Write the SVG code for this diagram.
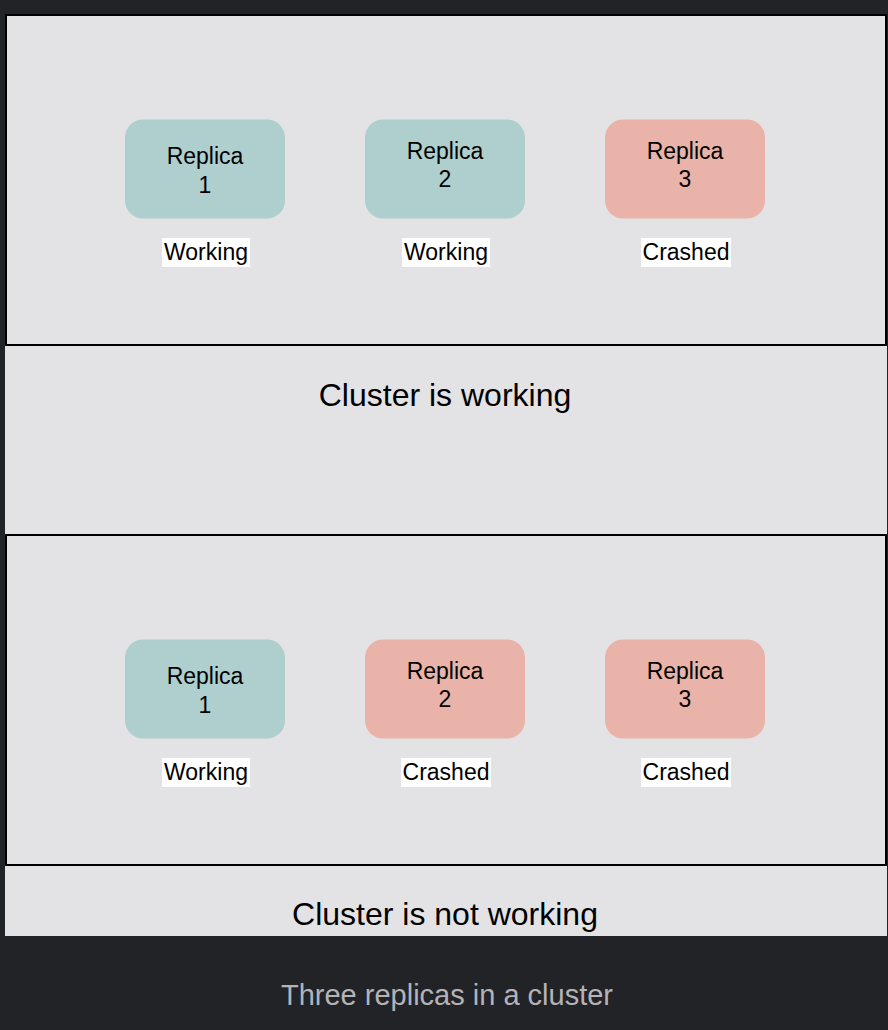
<svg xmlns="http://www.w3.org/2000/svg" width="888" height="1030" viewBox="0 0 888 1030">
<style>
.frame{fill:none;stroke:#000;stroke-width:2}
.ok{fill:#aecfce}
.bad{fill:#e9b3a9}
.nt{font-family:"Liberation Sans",Arial,sans-serif;font-size:23px;fill:#000;text-anchor:middle}
.lb{fill:#fff}
.big{font-family:"Liberation Sans",Arial,sans-serif;font-size:32px;fill:#000;text-anchor:middle}
.cap{font-family:"Liberation Sans",Arial,sans-serif;font-size:29px;fill:#b3b3b8;text-anchor:middle}
</style>
<rect x="0" y="0" width="888" height="1030" fill="#222327"/>
<rect x="5" y="14" width="882" height="922" fill="#e3e3e5"/>
<g id="connectors"></g>
<g id="cluster-working">
  <rect class="frame" x="6" y="15" width="880" height="330"/>
  <text class="big" x="445" y="406">Cluster is working</text>
</g>
<g id="top-replica-1">
  <rect class="ok" x="125" y="119.5" width="160" height="99" rx="18"/>
  <text class="nt" x="205" y="163.5">Replica</text>
  <text class="nt" x="205" y="192.5">1</text>
  <rect class="lb" x="162" y="238" width="88" height="29"/>
  <text class="nt" x="206" y="259.5">Working</text>
</g>
<g id="top-replica-2">
  <rect class="ok" x="365" y="119.5" width="160" height="99" rx="18"/>
  <text class="nt" x="445" y="158.5">Replica</text>
  <text class="nt" x="445" y="187">2</text>
  <rect class="lb" x="402" y="238" width="88" height="29"/>
  <text class="nt" x="446" y="259.5">Working</text>
</g>
<g id="top-replica-3">
  <rect class="bad" x="605" y="119.5" width="160" height="99" rx="18"/>
  <text class="nt" x="685" y="158.5">Replica</text>
  <text class="nt" x="685" y="187">3</text>
  <rect class="lb" x="641" y="238" width="90" height="29"/>
  <text class="nt" x="686" y="259.5">Crashed</text>
</g>
<g id="cluster-not-working">
  <rect class="frame" x="6" y="535" width="880" height="330"/>
  <text class="big" x="445" y="925">Cluster is not working</text>
</g>
<g id="bottom-replica-1">
  <rect class="ok" x="125" y="639.5" width="160" height="99" rx="18"/>
  <text class="nt" x="205" y="683.5">Replica</text>
  <text class="nt" x="205" y="712.5">1</text>
  <rect class="lb" x="162" y="758" width="88" height="29"/>
  <text class="nt" x="206" y="779.5">Working</text>
</g>
<g id="bottom-replica-2">
  <rect class="bad" x="365" y="639.5" width="160" height="99" rx="18"/>
  <text class="nt" x="445" y="678.5">Replica</text>
  <text class="nt" x="445" y="707">2</text>
  <rect class="lb" x="401" y="758" width="90" height="29"/>
  <text class="nt" x="446" y="779.5">Crashed</text>
</g>
<g id="bottom-replica-3">
  <rect class="bad" x="605" y="639.5" width="160" height="99" rx="18"/>
  <text class="nt" x="685" y="678.5">Replica</text>
  <text class="nt" x="685" y="707">3</text>
  <rect class="lb" x="641" y="758" width="90" height="29"/>
  <text class="nt" x="686" y="779.5">Crashed</text>
</g>
<text class="cap" x="447" y="1005">Three replicas in a cluster</text>
</svg>
